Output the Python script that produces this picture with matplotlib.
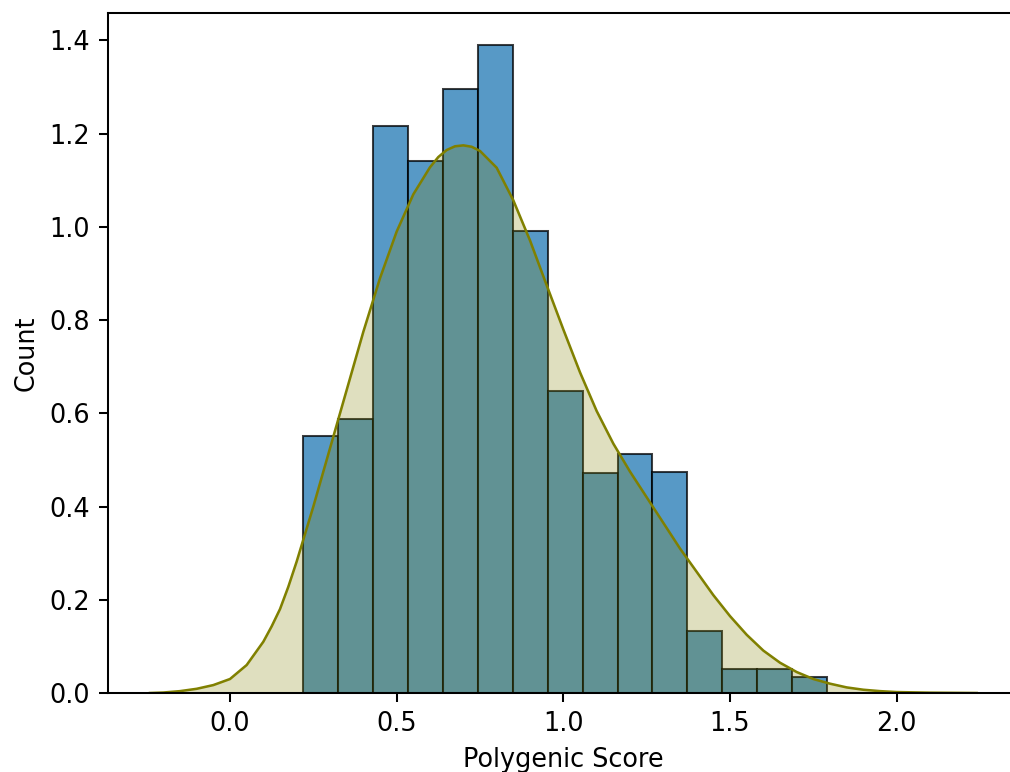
import numpy as np
import matplotlib
matplotlib.use("Agg")
import matplotlib.pyplot as plt

# histogram (density)
bin_edges = [0.220, 0.325, 0.430, 0.534, 0.639, 0.744, 0.849, 0.953,
             1.058, 1.163, 1.267, 1.372, 1.477, 1.581, 1.686, 1.791]
bin_heights = [0.552, 0.587, 1.217, 1.142, 1.295, 1.391, 0.991, 0.647,
               0.471, 0.513, 0.474, 0.133, 0.0515, 0.0515, 0.0337]

# kde curve points
kde_x = [-0.24, -0.20, -0.15, -0.10, -0.05, 0.00, 0.05, 0.10, 0.125, 0.15,
         0.175, 0.20, 0.25, 0.30, 0.35, 0.40, 0.45, 0.50, 0.55, 0.60,
         0.625, 0.65, 0.675, 0.70, 0.725, 0.75, 0.80, 0.85, 0.90, 0.95,
         1.00, 1.05, 1.10, 1.15, 1.20, 1.25, 1.30, 1.35, 1.40, 1.45,
         1.50, 1.55, 1.60, 1.65, 1.70, 1.75, 1.80, 1.85, 1.90, 1.95,
         2.00, 2.10, 2.24]
kde_y = [0.000, 0.001, 0.004, 0.009, 0.017, 0.030, 0.060, 0.110, 0.143, 0.180,
         0.228, 0.282, 0.400, 0.525, 0.650, 0.775, 0.890, 0.990, 1.070, 1.128,
         1.150, 1.165, 1.173, 1.175, 1.172, 1.163, 1.127, 1.057, 0.971, 0.875,
         0.780, 0.688, 0.605, 0.535, 0.475, 0.420, 0.365, 0.310, 0.260, 0.210,
         0.165, 0.125, 0.091, 0.065, 0.045, 0.030, 0.020, 0.012, 0.007, 0.004,
         0.002, 0.0007, 0.000]

fig = plt.figure(figsize=(1010/184, 772/184), dpi=184)
ax = fig.add_axes([108/1010, 79/772, 911/1010, 680/772])

edges = np.array(bin_edges)
ax.bar(edges[:-1], bin_heights, width=np.diff(edges), align="edge",
       color="#1f77b4", alpha=0.75, edgecolor="black", linewidth=0.8)

# kde on top
ax.fill_between(kde_x, kde_y, color="olive", alpha=0.25, linewidth=0)
ax.plot(kde_x, kde_y, color="olive", linewidth=1.0)

ax.set_xlim(-0.366, 2.367)
ax.set_ylim(0, 1.459)
ax.set_xticks([0.0, 0.5, 1.0, 1.5, 2.0])
ax.set_yticks([0.0, 0.2, 0.4, 0.6, 0.8, 1.0, 1.2, 1.4])
ax.set_xlabel("Polygenic Score")
ax.set_ylabel("Count")

fig.savefig("out.png", dpi=184)
